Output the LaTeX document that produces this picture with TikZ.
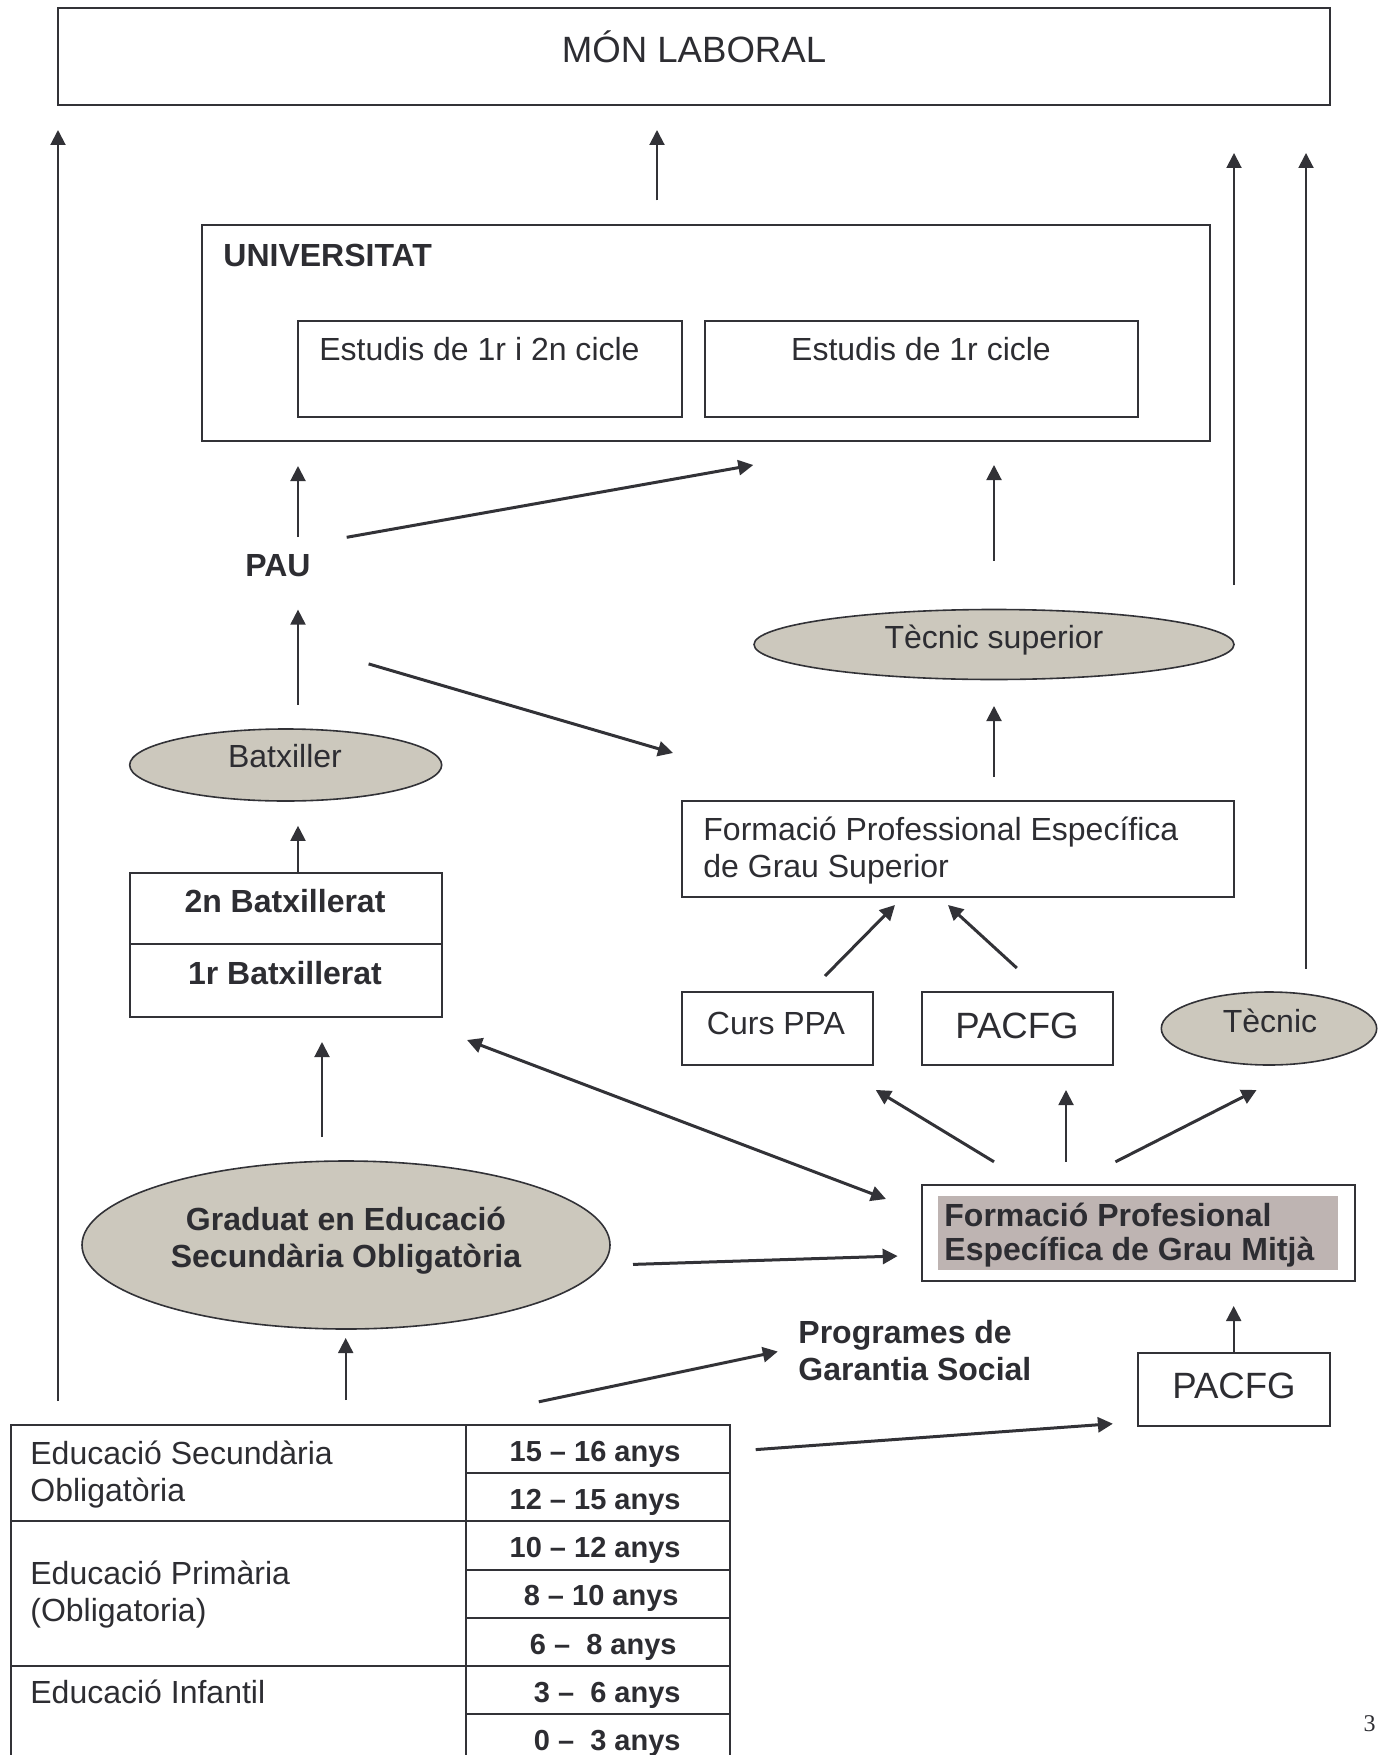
\documentclass[tikz,border=0pt]{standalone}
\usepackage{fontspec}
\setmainfont{Liberation Sans}
\newfontfamily\serifnum{Liberation Serif}
\usetikzlibrary{shapes.geometric,arrows.meta}
\definecolor{ln}{RGB}{50,50,55}
\definecolor{txt}{RGB}{45,45,50}
\definecolor{ellfill}{RGB}{204,200,189}
\definecolor{mauve}{RGB}{190,180,178}
\begin{document}
\begin{tikzpicture}[x=0.5pt,y=-0.5pt,
  box/.style={draw=ln,line width=1pt,rectangle,inner sep=0pt},
  ell/.style={ellipse,draw=ln,line width=0.8pt,fill=ellfill,inner sep=0pt},
  t/.style={text=txt,inner sep=0pt,font=\fontsize{16}{19}\selectfont},
  tb/.style={text=txt,inner sep=0pt,font=\fontsize{16}{19}\selectfont\bfseries},
  tl/.style={text=txt,inner sep=0pt,font=\fontsize{18.3}{22}\selectfont},
  ta/.style={text=txt,inner sep=0pt,font=\fontsize{14.5}{17}\selectfont\bfseries},
  arr/.style={draw=ln,line width=1pt,-{Triangle[length=7.5pt,width=7.5pt]}},
  darr/.style={draw=ln,line width=1.5pt,-{Triangle[length=7.5pt,width=7.5pt]}},
  tbl/.style={draw=ln,line width=1pt}]
\useasboundingbox (0,0) rectangle (1383,1755);

% boxes
\node[box,minimum width=636pt,minimum height=48.3pt] (mon) at (694,56.7) {};
\node[box,minimum width=504pt,minimum height=108pt] (univ) at (706,333) {};
\node[box,minimum width=192pt,minimum height=48.15pt] (est1) at (490,368.85) {};
\node[box,minimum width=216.5pt,minimum height=48.15pt] (est2) at (921.5,368.85) {};
\node[ell,minimum width=240pt,minimum height=35pt] (tsup) at (994,644.5) {};
\node[ell,minimum width=156pt,minimum height=36pt] (batx) at (285.7,765) {};
\node[box,minimum width=156.1pt,minimum height=35.95pt] (b2) at (285.7,908.45) {};
\node[box,minimum width=156.1pt,minimum height=36.3pt] (b1) at (285.7,980.7) {};
\node[box,minimum width=276pt,minimum height=48pt] (fps) at (957.7,849) {};
\node[box,minimum width=95.65pt,minimum height=36.5pt] (cppa) at (777.35,1028.5) {};
\node[box,minimum width=95.75pt,minimum height=36.5pt] (pacfg1) at (1017.25,1028.5) {};
\node[ell,minimum width=107.7pt,minimum height=36.5pt] (tec) at (1269,1028.5) {};
\node[ell,minimum width=264pt,minimum height=84pt] (grad) at (346,1245) {};
\node[box,minimum width=216.35pt,minimum height=48.15pt] (fpm) at (1138.35,1232.85) {};
\node[fill=mauve,inner sep=0pt,minimum width=200pt,minimum height=37pt] (fpmfill) at (1137.7,1233) {};
\node[box,minimum width=96.1pt,minimum height=36.25pt] (pacfg2) at (1233.7,1389.25) {};

% texts
\node[tl,anchor=base] (monT) at (694,63) {MÓN LABORAL};
\node[tb,anchor=base west] (univT) at (223,266) {UNIVERSITAT};
\node[t,anchor=base west] (e1T) at (319,360) {Estudis de 1r i 2n cicle};
\node[t,anchor=base] (e2T) at (921,360) {Estudis de 1r cicle};
\node[tb,anchor=base] (pau) at (278,576) {PAU};
\node[t,anchor=base] (tsT) at (994,648) {Tècnic superior};
\node[t,anchor=base] (bxT) at (285,767) {Batxiller};
\node[tb,anchor=base] (b2T) at (285,912) {2n Batxillerat};
\node[tb,anchor=base] (b1T) at (285,984) {1r Batxillerat};
\node[t,anchor=base west] (fs1) at (703,840) {Formació Professional Específica};
\node[t,anchor=base west] (fs2) at (703,877) {de Grau Superior};
\node[t,anchor=base] (cppaT) at (776,1034) {Curs PPA};
\node[tl,anchor=base] (pa1T) at (1017,1038) {PACFG};
\node[t,anchor=base] (tecT) at (1270,1032.5) {Tècnic};
\node[tb,anchor=base] (g1) at (346,1230) {Graduat en Educació};
\node[tb,anchor=base] (g2) at (346,1267) {Secundària Obligatòria};
\node[tb,anchor=base west] (fm1) at (944,1226) {Formació Profesional};
\node[tb,anchor=base west] (fm2) at (944,1260) {Específica de Grau Mitjà};
\node[tb,anchor=base west] (pg1) at (798,1343) {Programes de};
\node[tb,anchor=base west] (pg2) at (798,1380.5) {Garantia Social};
\node[tl,anchor=base] (pa2T) at (1234,1398) {PACFG};

% table
\draw[tbl] (10.6,1755) -- (10.6,1425) -- (730,1425) -- (730,1755);
\draw[tbl] (465.6,1425) -- (465.6,1755);
\draw[tbl] (10.6,1521.4) -- (730,1521.4);
\draw[tbl] (10.6,1665.8) -- (730,1665.8);
\draw[tbl] (465.6,1473.3) -- (730,1473.3);
\draw[tbl] (465.6,1569.6) -- (730,1569.6);
\draw[tbl] (465.6,1617.7) -- (730,1617.7);
\draw[tbl] (465.6,1714) -- (730,1714);
\node[t,anchor=base west] (eso1) at (30,1464) {Educació Secundària};
\node[t,anchor=base west] (eso2) at (30,1501) {Obligatòria};
\node[t,anchor=base west] (ep1) at (30,1584) {Educació Primària};
\node[t,anchor=base west] (ep2) at (30,1621) {(Obligatoria)};
\node[t,anchor=base west] (ei1) at (30,1703) {Educació Infantil};
\node[ta,anchor=base east] (ag1) at (681,1461) {15 – 16 anys};
\node[ta,anchor=base east] (ag2) at (681,1509) {12 – 15 anys};
\node[ta,anchor=base east] (ag3) at (681,1557.5) {10 – 12 anys};
\node[ta,anchor=base east] (ag4) at (679,1605.7) {8 – 10 anys};
\node[ta,anchor=base east] (ag5) at (677,1654) {6 –~~8 anys};
\node[ta,anchor=base east] (ag6) at (681,1702) {3 –~~6 anys};
\node[ta,anchor=base east] (ag7) at (681,1750) {0 –~~3 anys};
\node[text=txt,inner sep=0pt,font=\serifnum\fontsize{12}{14}\selectfont,anchor=base] (pnum) at (1369.5,1731) {3};

% connector end points
\coordinate (c1s) at (58,1401);   \coordinate (c1e) at (58,130);
\coordinate (c2s) at (657,200.5); \coordinate (c2e) at (657,130);
\coordinate (c3s) at (1234,585);  \coordinate (c3e) at (1234,153);
\coordinate (c4s) at (1306,968.5);\coordinate (c4e) at (1306,153);
\coordinate (c5s) at (298,537);   \coordinate (c5e) at (298,466);
\coordinate (c6s) at (346.7,537.3); \coordinate (c6e) at (753.3,465);
\coordinate (c7s) at (994,560.7); \coordinate (c7e) at (994,465);
\coordinate (c8s) at (298,704.5); \coordinate (c8e) at (298,609.6);
\coordinate (c9s) at (368.6,663.9); \coordinate (c9e) at (673,753);
\coordinate (c10s) at (994,777);  \coordinate (c10e) at (994,706);
\coordinate (c11s) at (298,872.5);\coordinate (c11e) at (298,825.8);
\coordinate (c12s) at (825,976);  \coordinate (c12e) at (895,905);
\coordinate (c13s) at (1016.8,968); \coordinate (c13e) at (948,905);
\coordinate (c14s) at (994,1161.8); \coordinate (c14e) at (875.7,1089.9);
\coordinate (c15s) at (1066,1161.8); \coordinate (c15e) at (1066,1090);
\coordinate (c16s) at (1115.5,1161.8); \coordinate (c16e) at (1256.6,1090);
\coordinate (c17s) at (886,1199); \coordinate (c17e) at (467,1040);
\coordinate (c18s) at (322,1137); \coordinate (c18e) at (322,1042);
\coordinate (c19s) at (633,1264.4); \coordinate (c19e) at (897.7,1256);
\coordinate (c20s) at (1233.7,1353); \coordinate (c20e) at (1233.7,1306);
\coordinate (c21s) at (345.7,1400); \coordinate (c21e) at (345.7,1338);
\coordinate (c22s) at (538.8,1401.8); \coordinate (c22e) at (777.8,1351.5);
\coordinate (c23s) at (755.7,1449.6); \coordinate (c23e) at (1112.9,1423.7);

% connectors
\draw[arr] (c1s) -- (c1e);
\draw[arr] (c2s) -- (c2e);
\draw[arr] (c3s) -- (c3e);
\draw[arr] (c4s) -- (c4e);
\draw[arr] (c5s) -- (c5e);
\draw[darr] (c6s) -- (c6e);
\draw[arr] (c7s) -- (c7e);
\draw[arr] (c8s) -- (c8e);
\draw[darr] (c9s) -- (c9e);
\draw[arr] (c10s) -- (c10e);
\draw[arr] (c11s) -- (c11e);
\draw[darr] (c12s) -- (c12e);
\draw[darr] (c13s) -- (c13e);
\draw[darr] (c14s) -- (c14e);
\draw[arr] (c15s) -- (c15e);
\draw[darr] (c16s) -- (c16e);
\draw[darr,{Triangle[length=7.5pt,width=7.5pt]}-{Triangle[length=7.5pt,width=7.5pt]}] (c17s) -- (c17e);
\draw[arr] (c18s) -- (c18e);
\draw[darr] (c19s) -- (c19e);
\draw[arr] (c20s) -- (c20e);
\draw[arr] (c21s) -- (c21e);
\draw[darr] (c22s) -- (c22e);
\draw[darr] (c23s) -- (c23e);
\end{tikzpicture}
\end{document}
